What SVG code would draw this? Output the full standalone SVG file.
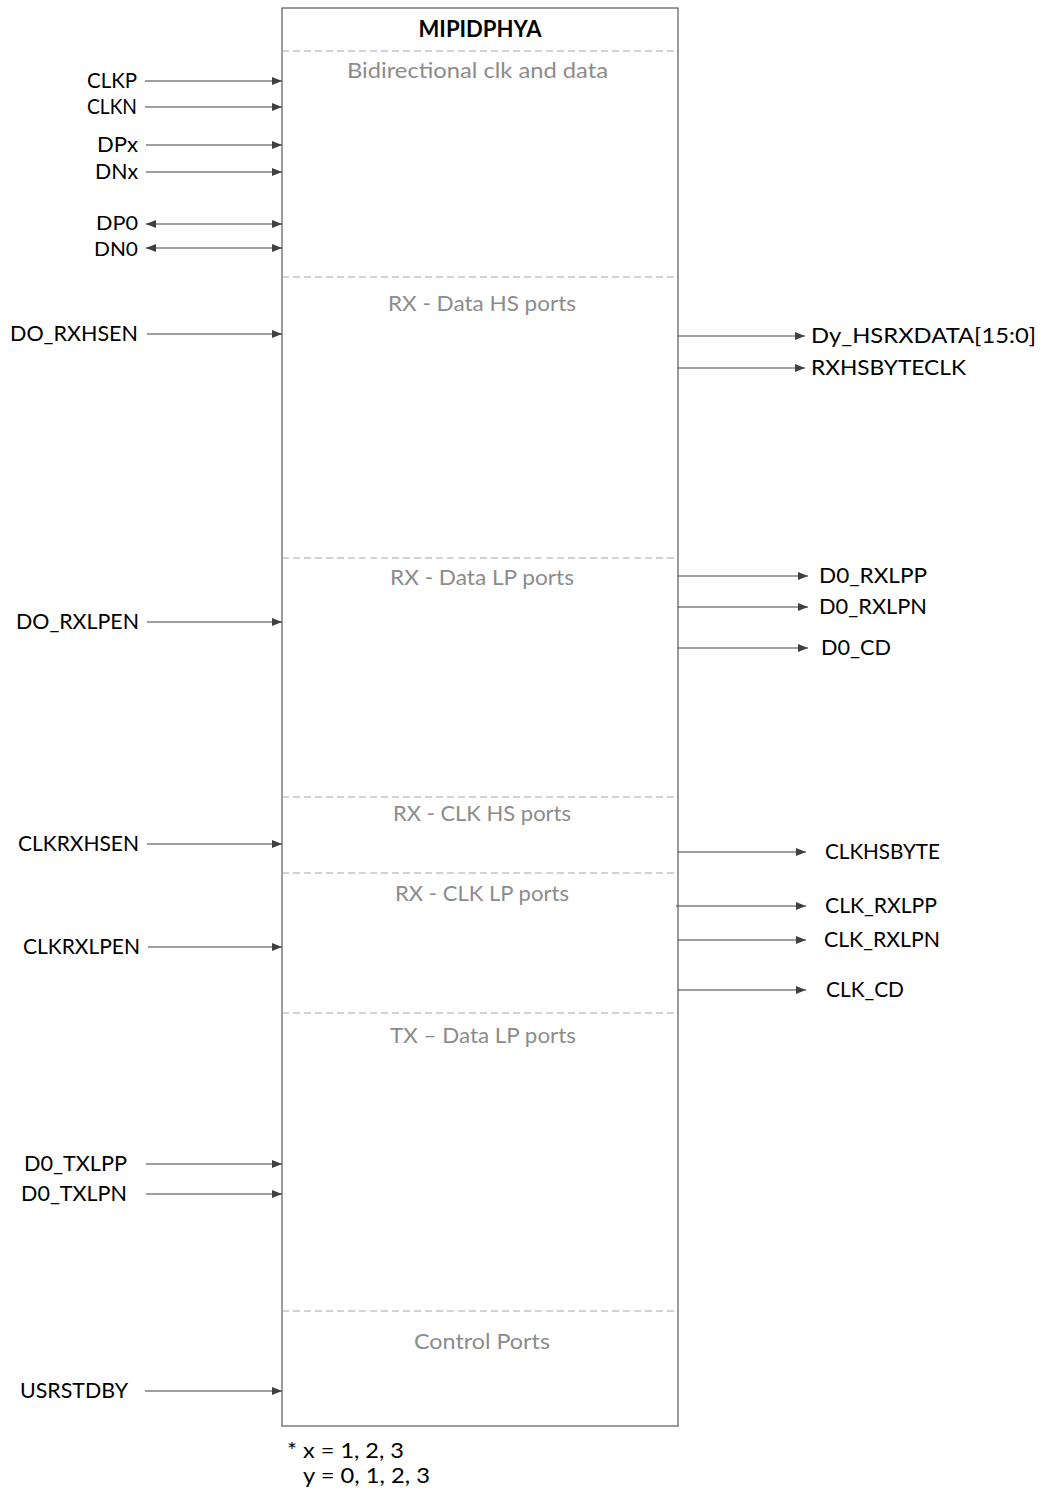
<svg xmlns="http://www.w3.org/2000/svg" width="1044" height="1497" viewBox="0 0 1044 1497">
<style>
text{font-family:Lato,"Liberation Sans",sans-serif;font-size:22px;fill:#000}
.sec{fill:#8c8c8c;text-anchor:middle}
.l{text-anchor:end}
.sm{font-size:20px}
.title{font-weight:bold;text-anchor:middle}
.dash{stroke:#a6a6a6;stroke-width:1;stroke-dasharray:7,4;fill:none}
.w{stroke:#404040;stroke-width:1.2;fill:none}
</style>
<defs>
<marker id="ah" markerWidth="10" markerHeight="8" refX="10" refY="4" orient="auto-start-reverse" markerUnits="userSpaceOnUse">
<path d="M0,0 L10,4 L0,8 Z" fill="#404040"/>
</marker>
</defs>
<g id="block">
<rect x="282" y="8" width="396" height="1418" fill="#fff" stroke="#595959" stroke-width="1.2"/>
<text class="title" x="480" y="37" textLength="123" lengthAdjust="spacingAndGlyphs">MIPIDPHYA</text>
<line class="dash" x1="282" y1="51" x2="678" y2="51"/>
<line class="dash" x1="282" y1="277" x2="678" y2="277"/>
<line class="dash" x1="282" y1="558" x2="678" y2="558"/>
<line class="dash" x1="282" y1="797" x2="678" y2="797"/>
<line class="dash" x1="282" y1="873" x2="678" y2="873"/>
<line class="dash" x1="282" y1="1013" x2="678" y2="1013"/>
<line class="dash" x1="282" y1="1311" x2="678" y2="1311"/>
<text class="sec" x="477.5" y="78" textLength="261" lengthAdjust="spacingAndGlyphs">Bidirectional clk and data</text>
<text class="sec" x="482" y="311" textLength="188" lengthAdjust="spacingAndGlyphs">RX - Data HS ports</text>
<text class="sec" x="482" y="585" textLength="184" lengthAdjust="spacingAndGlyphs">RX - Data LP ports</text>
<text class="sec" x="482" y="821" textLength="178" lengthAdjust="spacingAndGlyphs">RX - CLK HS ports</text>
<text class="sec" x="482" y="901" textLength="174" lengthAdjust="spacingAndGlyphs">RX - CLK LP ports</text>
<text class="sec" x="483" y="1043" textLength="186" lengthAdjust="spacingAndGlyphs">TX – Data LP ports</text>
<text class="sec" x="482" y="1349" textLength="136" lengthAdjust="spacingAndGlyphs">Control Ports</text>
</g>
<g id="labels">
<text class="l" x="137" y="88" textLength="50" lengthAdjust="spacingAndGlyphs">CLKP</text>
<text class="l" x="137" y="114" textLength="50" lengthAdjust="spacingAndGlyphs">CLKN</text>
<text class="l" x="138" y="152" textLength="41" lengthAdjust="spacingAndGlyphs">DPx</text>
<text class="l" x="138" y="179" textLength="43" lengthAdjust="spacingAndGlyphs">DNx</text>
<text class="l sm" x="138" y="230" textLength="42" lengthAdjust="spacingAndGlyphs">DP0</text>
<text class="l sm" x="138" y="256" textLength="44" lengthAdjust="spacingAndGlyphs">DN0</text>
<text class="l" x="138" y="341" textLength="128" lengthAdjust="spacingAndGlyphs">DO_RXHSEN</text>
<text class="l" x="139" y="629" textLength="123" lengthAdjust="spacingAndGlyphs">DO_RXLPEN</text>
<text class="l" x="139" y="851" textLength="121" lengthAdjust="spacingAndGlyphs">CLKRXHSEN</text>
<text class="l" x="140" y="954" textLength="117" lengthAdjust="spacingAndGlyphs">CLKRXLPEN</text>
<text class="l" x="127" y="1171" textLength="103" lengthAdjust="spacingAndGlyphs">D0_TXLPP</text>
<text class="l" x="127" y="1201" textLength="106" lengthAdjust="spacingAndGlyphs">D0_TXLPN</text>
<text class="l" x="128" y="1398" textLength="108" lengthAdjust="spacingAndGlyphs">USRSTDBY</text>
<text x="811" y="343" textLength="225" lengthAdjust="spacingAndGlyphs">Dy_HSRXDATA[15:0]</text>
<text x="811" y="375" textLength="155" lengthAdjust="spacingAndGlyphs">RXHSBYTECLK</text>
<text x="819" y="583" textLength="108" lengthAdjust="spacingAndGlyphs">D0_RXLPP</text>
<text x="819" y="614" textLength="108" lengthAdjust="spacingAndGlyphs">D0_RXLPN</text>
<text x="821" y="655" textLength="70" lengthAdjust="spacingAndGlyphs">D0_CD</text>
<text x="825" y="859" textLength="115" lengthAdjust="spacingAndGlyphs">CLKHSBYTE</text>
<text x="825" y="913" textLength="112" lengthAdjust="spacingAndGlyphs">CLK_RXLPP</text>
<text x="824" y="947" textLength="116" lengthAdjust="spacingAndGlyphs">CLK_RXLPN</text>
<text x="826" y="997" textLength="78" lengthAdjust="spacingAndGlyphs">CLK_CD</text>
<text x="287" y="1458" textLength="117" lengthAdjust="spacingAndGlyphs">* x = 1, 2, 3</text>
<text x="303" y="1483" textLength="127" lengthAdjust="spacingAndGlyphs">y = 0, 1, 2, 3</text>
</g>
<g id="connectors">
<line class="w" x1="145" y1="81" x2="282" y2="81" marker-end="url(#ah)"/>
<line class="w" x1="145" y1="107" x2="282" y2="107" marker-end="url(#ah)"/>
<line class="w" x1="146" y1="145" x2="282" y2="145" marker-end="url(#ah)"/>
<line class="w" x1="146" y1="172" x2="282" y2="172" marker-end="url(#ah)"/>
<line class="w" x1="146" y1="224" x2="282" y2="224" marker-start="url(#ah)" marker-end="url(#ah)"/>
<line class="w" x1="146" y1="248" x2="282" y2="248" marker-start="url(#ah)" marker-end="url(#ah)"/>
<line class="w" x1="147" y1="334" x2="282" y2="334" marker-end="url(#ah)"/>
<line class="w" x1="147" y1="622" x2="282" y2="622" marker-end="url(#ah)"/>
<line class="w" x1="147" y1="844" x2="282" y2="844" marker-end="url(#ah)"/>
<line class="w" x1="148" y1="947" x2="282" y2="947" marker-end="url(#ah)"/>
<line class="w" x1="146" y1="1164" x2="282" y2="1164" marker-end="url(#ah)"/>
<line class="w" x1="146" y1="1194" x2="282" y2="1194" marker-end="url(#ah)"/>
<line class="w" x1="145" y1="1391" x2="282" y2="1391" marker-end="url(#ah)"/>
<line class="w" x1="678" y1="336" x2="805" y2="336" marker-end="url(#ah)"/>
<line class="w" x1="678" y1="368" x2="805" y2="368" marker-end="url(#ah)"/>
<line class="w" x1="678" y1="576" x2="808" y2="576" marker-end="url(#ah)"/>
<line class="w" x1="678" y1="607" x2="808" y2="607" marker-end="url(#ah)"/>
<line class="w" x1="678" y1="648" x2="808" y2="648" marker-end="url(#ah)"/>
<line class="w" x1="678" y1="852" x2="806" y2="852" marker-end="url(#ah)"/>
<line class="w" x1="676" y1="906" x2="806" y2="906" marker-end="url(#ah)"/>
<line class="w" x1="678" y1="940" x2="806" y2="940" marker-end="url(#ah)"/>
<line class="w" x1="678" y1="990" x2="806" y2="990" marker-end="url(#ah)"/>
</g>
</svg>
